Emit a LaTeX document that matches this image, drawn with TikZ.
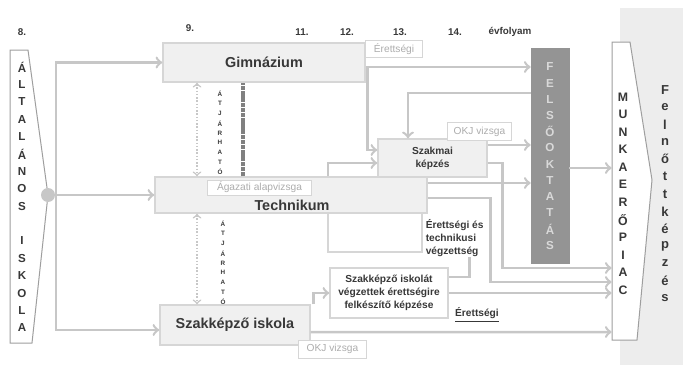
\documentclass[tikz,border=0pt]{standalone}
\usepackage{fontspec}
\setmainfont{Liberation Sans}
\usepackage{tikz}

\definecolor{lnclr}{gray}{0.78}
\definecolor{boxfill}{gray}{0.94}
\definecolor{boxdraw}{gray}{0.84}
\definecolor{txtclr}{gray}{0.22}
\definecolor{lighttxt}{gray}{0.68}
\definecolor{felsoclr}{gray}{0.58}
\definecolor{barclr}{gray}{0.5}
\definecolor{felnottclr}{gray}{0.93}
\definecolor{edgeclr}{gray}{0.62}

\begin{document}
\begin{tikzpicture}[x=0.02cm, y=-0.02cm,
			mybox/.style={draw=boxdraw, fill=boxfill, line width=0.3mm, inner sep=0pt, text=txtclr, align=center, font=\fontsize{8.2}{9}\selectfont\bfseries},
			smallbox/.style={draw=boxdraw, fill=boxfill, line width=0.3mm, inner sep=0pt, text=txtclr, align=center, font=\fontsize{5.8}{7.4}\selectfont\bfseries},
			vizsga/.style={draw=boxdraw, fill=white, line width=0.2mm, inner sep=0pt, text=lighttxt, font=\fontsize{5.8}{7}\selectfont},
			hdr/.style={text=txtclr, font=\fontsize{5.6}{6}\selectfont\bfseries},
			altletter/.style={text=txtclr, inner sep=0pt, font=\fontsize{6.6}{7}\selectfont\bfseries},
			atjletter/.style={text=txtclr, inner sep=0pt, font=\fontsize{3.6}{4}\selectfont\bfseries},
			myarrow/.style={->, draw=lnclr, line width=0.5mm},
			shapeline/.style={draw=edgeclr, line width=0.2mm}
		]

		\useasboundingbox (0,0) rectangle (683,365);

		\node[fill=felnottclr, minimum width=1.26cm, minimum height=7.14cm, inner sep=0pt] (felnott) at (651.5,186.5) {};
		\draw[shapeline, fill=white] (612,42) -- (630,42) -- (652,180) -- (637,340) -- (612,340) -- cycle;
		\node[minimum width=0.5cm, minimum height=5.96cm, inner sep=0pt] (munka) at (624.5,191) {};
		\draw[shapeline, fill=white] (10,50) -- (28,50) -- (48,195) -- (32,343) -- (10,343) -- cycle;

		\node[hdr] (h8) at (22,32) {8.};
		\node[hdr] (h9) at (190,28) {9.};
		\node[hdr] (h11) at (302,32) {11.};
		\node[hdr] (h12) at (347,32) {12.};
		\node[hdr] (h13) at (400,32) {13.};
		\node[hdr] (h14) at (455,32) {14.};
		\node[hdr] (hevf) at (510,32) {évfolyam};

		\node[mybox, minimum width=4.04cm, minimum height=0.78cm] (gim) at (264,62.5) {Gimnázium};
		\node[mybox, minimum width=5.44cm, minimum height=0.72cm] (tech) at (291,195) {};
		\node[mybox, draw=none, fill=none] (techtxt) at (292,205) {Technikum};
		\node[vizsga, minimum width=2.1cm, minimum height=0.3cm] (agazati) at (259.5,187.5) {Ágazati alapvizsga};
		\node[draw=boxdraw, line width=0.3mm, minimum width=1.88cm, minimum height=0.78cm, inner sep=0pt] (techlow) at (375,232.5) {};
		\node[mybox, minimum width=3cm, minimum height=0.8cm] (szki) at (235,325) {Szakképző iskola};
		\node[smallbox, minimum width=2.18cm, minimum height=0.76cm] (szakmai) at (432.5,158) {Szakmai\\képzés};
		\node[smallbox, fill=white, minimum width=2.36cm, minimum height=1cm] (felk) at (389,293) {Szakképző iskolát\\végzettek érettségire\\felkészítő képzése};
		\node[smallbox, draw=none, fill=none, align=left, anchor=west] (erettech) at (425,238) {Érettségi és\\technikusi\\végzettség};
		\node[vizsga, minimum width=1.16cm, minimum height=0.36cm] (eret1) at (394,49) {Érettségi};
		\node[smallbox, draw=none, fill=none] (eret2) at (477,315) {\underline{Érettségi}};
		\node[vizsga, minimum width=1.3cm, minimum height=0.38cm] (okj1) at (479.5,131.5) {OKJ vizsga};
		\node[vizsga, minimum width=1.38cm, minimum height=0.36cm] (okj2) at (332.5,349) {OKJ vizsga};
		\node[draw=felsoclr, fill=felsoclr, minimum width=0.76cm, minimum height=4.3cm, inner sep=0pt] (felso) at (550,155.5) {};
		\node[circle, fill=lnclr, minimum size=0.28cm, inner sep=0pt] (dot) at (48,195) {};
		\coordinate (split) at (56,195);

		\foreach \c [count=\i] in {Á,L,T,A,L,Á,N,O,S,{},I,S,K,O,L,A}
			\node[altletter] (alt\i) at (22,{67+17.4*(\i-1)}) {\c};
		\foreach \c [count=\i] in {F,E,L,S,Ő,O,K,T,A,T,Á,S}
			\node[altletter, text=gray!30] (fo\i) at (550,{67+16.2*(\i-1)}) {\c};
		\foreach \c [count=\i] in {M,U,N,K,A,E,R,Ő,P,I,A,C}
			\node[altletter, font=\fontsize{7}{8}\selectfont\bfseries] (mp\i) at (623,{97+17.55*(\i-1)}) {\c};
		\foreach \c [count=\i] in {F,e,l,n,ő,t,t,k,é,p,z,é,s}
			\node[altletter, font=\fontsize{7.4}{8}\selectfont\bfseries] (fk\i) at (665,{90+17.33*(\i-1)}) {\c};
		\foreach \c [count=\i] in {Á,T,J,Á,R,H,A,T,Ó}
			\node[atjletter] (atja\i) at (220,{84+9.8*\i}) {\c};
		\foreach \c [count=\i] in {Á,T,J,Á,R,H,A,T,Ó}
			\node[atjletter] (atjb\i) at (223,{214+9.8*\i}) {\c};

		\draw[myarrow] (dot) -- (tech.west |- dot);
		\draw[myarrow] (split) |- (gim.west);
		\draw[myarrow] (split) |- ([yshift=-0.1cm]szki.west);

		\draw[<->, draw=lnclr, line width=0.3mm, densely dotted] ([xshift=-1.34cm]gim.south) -- ([xshift=-1.34cm]gim.south |- tech.north);
		\draw[<->, draw=lnclr, line width=0.3mm, densely dotted] ([xshift=-1.88cm]tech.south) -- ([xshift=-1.88cm]tech.south |- szki.north);
		\draw[draw=barclr, line width=0.9mm, dash pattern=on 1.2pt off 0.2pt] ([xshift=-0.96cm]tech.north) -- ([xshift=-0.96cm]tech.north |- gim.south);

		\coordinate (g1) at ([yshift=-0.09cm]gim.east);
		\draw[myarrow] (g1) -- (g1 -| felso.west);
		\draw[myarrow] ([xshift=0.04cm]g1) |- ([yshift=0.16cm]szakmai.west);
		\draw[myarrow] (felso.west |- 0,93) -| ([xshift=-0.49cm]szakmai.north);
		\draw[myarrow] ([xshift=0.74cm]tech.north) |- ([yshift=-0.1cm]szakmai.west);
		\draw[myarrow] ([yshift=0.26cm]szakmai.east) -- ([yshift=0.26cm]szakmai.east -| felso.west);
		\draw[myarrow] ([yshift=0.24cm]tech.east) -- ([yshift=0.24cm]tech.east -| felso.west);
		\draw[myarrow] ([yshift=-0.1cm]szakmai.east) -- ++(0.3cm,0) |- (munka.west |- 0,268);
		\draw[myarrow] ([yshift=-0.06cm]tech.east) -- ++(1.26cm,0) |- (munka.west |- 0,282);
		\draw[myarrow] (felso.east |- 0,168) -- (munka.west |- 0,168);
		\draw[myarrow] (felk.east) -- (munka.west |- felk.east);
		\draw[myarrow] ([yshift=-0.14cm]szki.east) -- (munka.west |- 0,332);
		\draw[myarrow] ([xshift=0.06cm]szki.north east) |- (felk.west);
		\draw[draw=lnclr, line width=0.5mm] ([xshift=0.3cm]erettech.south) |- ([yshift=0.32cm]felk.east);

	\end{tikzpicture}
\end{document}
